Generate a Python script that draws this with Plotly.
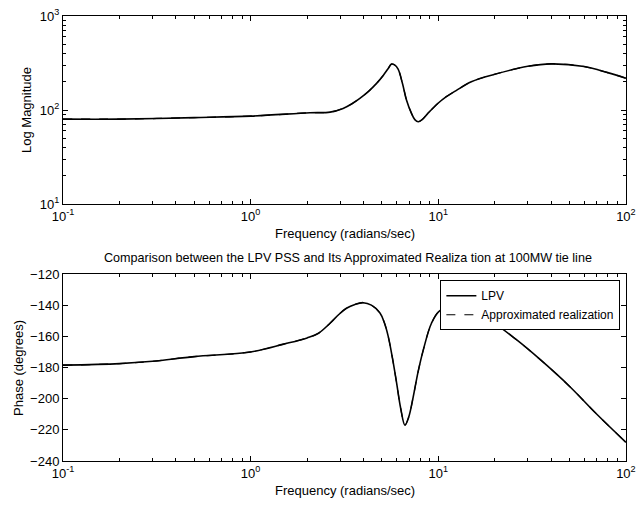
import plotly.graph_objects as go

# Frequency points (rad/s) and magnitudes
freq_mag = [0.1, 0.2, 0.5, 1.0, 2.07, 2.65, 3.11, 3.5, 3.82, 4.25, 4.69, 5.1, 5.4, 5.63, 5.85, 6.11, 6.45, 6.77, 7.2, 7.5, 7.82, 8.2, 8.8, 9.97, 11.0, 12.5, 15.0, 20.0, 30.0, 40.0, 60.0, 80.0, 100.0]
mag = [80, 80, 83, 86, 93.5, 95, 104, 118, 133, 158, 192, 235, 275, 308, 302, 272, 190, 128, 92, 79, 75, 79, 92, 118, 138, 162, 200, 240, 292, 310, 290, 250, 218]

freq_ph = [0.1, 0.2, 0.3, 0.5, 1.0, 1.5, 2.0, 2.3, 2.65, 2.95, 3.24, 3.6, 3.98, 4.4, 4.89, 5.15, 5.41, 5.7, 6.0, 6.3, 6.64, 6.95, 7.35, 7.8, 8.31, 9.2, 10.2, 12.0, 15.0, 20.0, 26.0, 35.0, 50.0, 70.0, 100.0]
phase = [-178.5, -177.5, -176, -173, -170, -165, -161, -158, -151.6, -146, -142, -139.5, -138.4, -140, -145, -151, -160, -174, -190, -206, -217, -212, -199, -183, -169, -151.6, -143.5, -141.5, -145, -152, -162, -175, -192, -210, -228]

x_tickvals = [0.1, 1, 10, 100]
x_ticktext = ["10<sup>-1</sup>", "10<sup>0</sup>", "10<sup>1</sup>", "10<sup>2</sup>"]
mag_tickvals = [10, 100, 1000]
mag_ticktext = ["10<sup>1</sup>", "10<sup>2</sup>", "10<sup>3</sup>"]

title_text = "Comparison between the LPV PSS and Its Approximated Realiza tion at 100MW tie line"
xlabel = "Frequency (radians/sec)"
ylabel_mag = "Log Magnitude"
ylabel_ph = "Phase (degrees)"
series_names = ["LPV", "Approximated realization"]

minor_x = [m * 10 ** e for e in (-1, 0, 1) for m in range(2, 10)]
minor_y = [m * 10 ** e for e in (1, 2) for m in range(2, 10)]

sp = dict(shape="spline", smoothing=1.0)
fig = go.Figure()
fig.add_trace(go.Scatter(x=freq_mag, y=mag, mode="lines", line=dict(color="black", width=1.6, **sp),
                         showlegend=False, xaxis="x", yaxis="y"))
fig.add_trace(go.Scatter(x=freq_mag, y=mag, mode="lines", line=dict(color="black", width=1.2, dash="dash", **sp),
                         showlegend=False, xaxis="x", yaxis="y"))
fig.add_trace(go.Scatter(x=freq_ph, y=phase, mode="lines", name=series_names[0],
                         line=dict(color="black", width=1.6, **sp), xaxis="x2", yaxis="y2"))
fig.add_trace(go.Scatter(x=freq_ph, y=phase, mode="lines", name=series_names[1],
                         line=dict(color="black", width=1.2, dash="dash", **sp), xaxis="x2", yaxis="y2"))

font = dict(family="Liberation Sans, Arial, sans-serif", size=12, color="black")
axis_common = dict(showline=True, linecolor="black", linewidth=1, mirror="allticks", ticks="inside",
                   ticklen=5, tickcolor="black", showgrid=False, zeroline=False, tickfont=dict(size=13),
                   automargin=False)
logx = dict(type="log", range=[-1, 2.0005], tickmode="array", tickvals=x_tickvals, ticktext=x_ticktext,
            minor=dict(ticks="inside", ticklen=3, tickcolor="black", tickmode="array", tickvals=minor_x, showgrid=False))

fig.update_layout(
    width=637, height=506,
    paper_bgcolor="white", plot_bgcolor="white",
    font=font,
    margin=dict(l=63, r=11, t=16, b=45, autoexpand=False),
    xaxis=dict(domain=[0, 1], anchor="y", **logx, **axis_common),
    yaxis=dict(domain=[0.5775, 1], anchor="x", type="log", range=[0.9995, 3.0005], tickmode="array",
               tickvals=mag_tickvals, ticktext=mag_ticktext,
               minor=dict(ticks="inside", ticklen=3, tickcolor="black", tickmode="array", tickvals=minor_y, showgrid=False),
               **axis_common),
    xaxis2=dict(domain=[0, 1], anchor="y2", **logx, **axis_common),
    yaxis2=dict(domain=[0, 0.4202], anchor="x2", range=[-240, -120], dtick=20, **axis_common),
    legend=dict(x=0.99, y=0.4202 - 0.014, xanchor="right", yanchor="top", bgcolor="white",
                bordercolor="black", borderwidth=1, font=dict(size=12), tracegroupgap=0,
                itemwidth=30),
    annotations=[
        dict(text=xlabel, x=0.5, y=(461 - 233) / 445, xref="paper", yref="paper", showarrow=False,
             font=dict(size=13), xanchor="center", yanchor="middle"),
        dict(text=xlabel, x=0.5, y=(461 - 490) / 445, xref="paper", yref="paper", showarrow=False,
             font=dict(size=13), xanchor="center", yanchor="middle"),
        dict(text=title_text, x=(348 - 63) / 563, y=(461 - 258) / 445, xref="paper", yref="paper", showarrow=False,
             font=dict(size=12.6), xanchor="center", yanchor="middle"),
        dict(text=ylabel_mag, x=(27 - 63) / 563, y=(461 - 110) / 445, xref="paper", yref="paper", showarrow=False,
             font=dict(size=13), textangle=-90, xanchor="center", yanchor="middle"),
        dict(text=ylabel_ph, x=(18 - 63) / 563, y=(461 - 368) / 445, xref="paper", yref="paper", showarrow=False,
             font=dict(size=13), textangle=-90, xanchor="center", yanchor="middle"),
    ],
)

fig.write_html("out.html")
